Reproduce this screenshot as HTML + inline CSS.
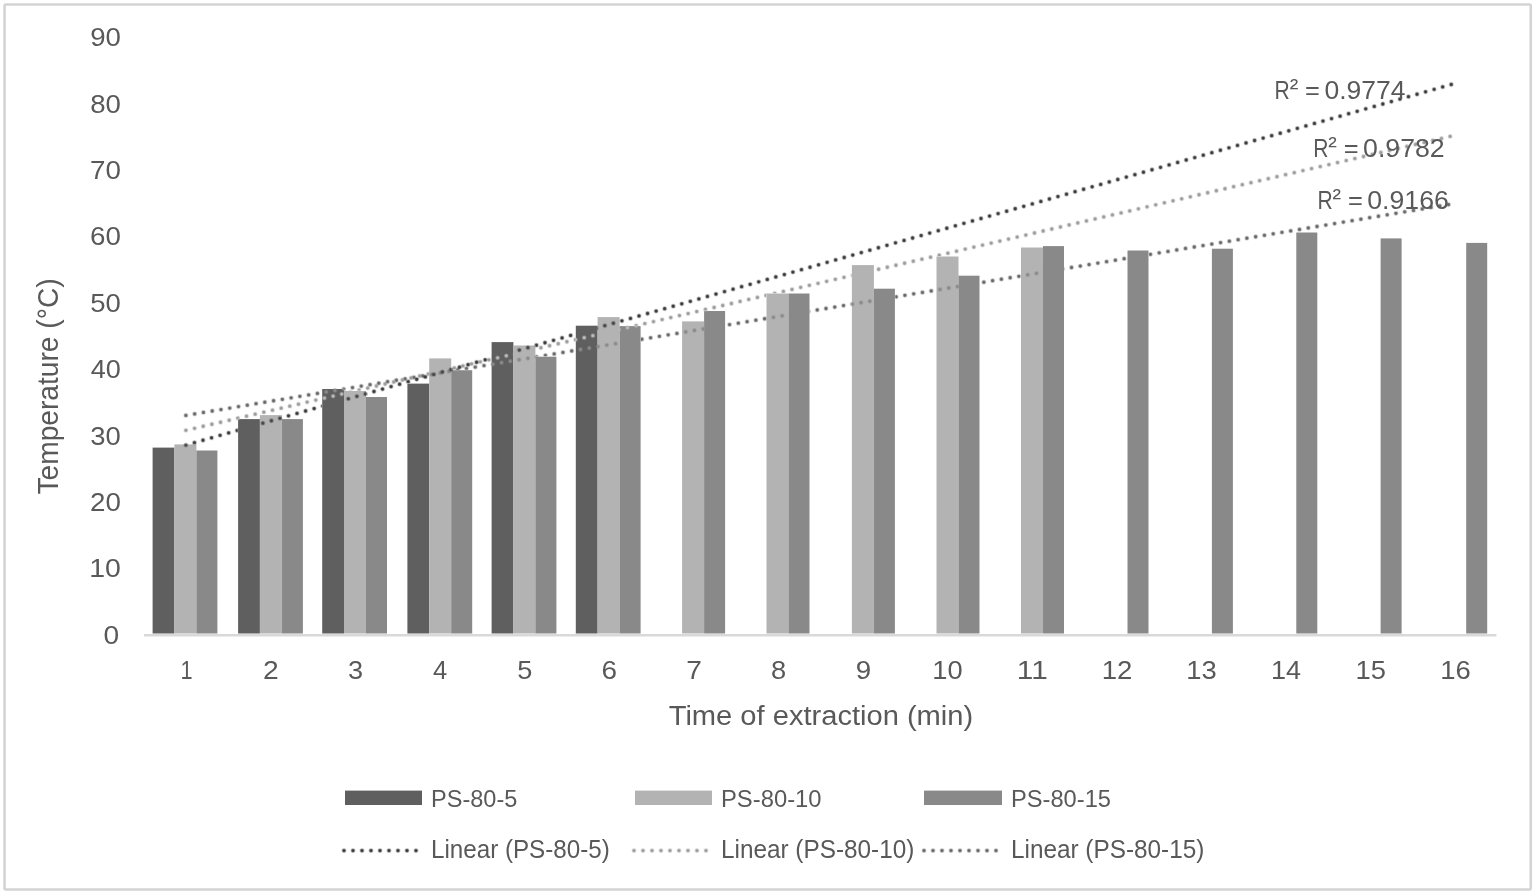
<!DOCTYPE html>
<html lang="en"><head><meta charset="utf-8"><title>Temperature vs time of extraction</title>
<style>html,body{margin:0;padding:0;background:#fff;}body{width:1535px;height:894px;overflow:hidden;}svg{display:block;}text{white-space:pre;}</style></head>
<body>
<svg width="1535" height="894" viewBox="0 0 1535 894">
<defs><mask id="mkw" maskUnits="userSpaceOnUse" x="0" y="0" width="1535" height="894"><rect x="0" y="0" width="1535" height="894" fill="#fff"/><g fill="#000"><rect x="152.30" y="447.30" width="22.40" height="186.50"/><rect x="237.80" y="418.80" width="22.40" height="215.00"/><rect x="321.90" y="388.70" width="22.40" height="245.10"/><rect x="407.10" y="383.30" width="22.40" height="250.50"/><rect x="491.30" y="341.80" width="22.40" height="292.00"/><rect x="575.50" y="325.40" width="22.40" height="308.40"/><rect x="174.10" y="444.10" width="22.60" height="189.70"/><rect x="259.60" y="414.80" width="22.60" height="219.00"/><rect x="343.70" y="390.70" width="22.60" height="243.10"/><rect x="428.90" y="358.10" width="22.60" height="275.70"/><rect x="513.10" y="345.20" width="22.60" height="288.60"/><rect x="597.30" y="316.80" width="22.60" height="317.00"/><rect x="681.80" y="321.10" width="22.60" height="312.70"/><rect x="766.20" y="293.20" width="22.60" height="340.60"/><rect x="851.60" y="264.80" width="22.60" height="369.00"/><rect x="936.20" y="256.20" width="22.60" height="377.60"/><rect x="1020.70" y="247.20" width="22.60" height="386.60"/><rect x="196.10" y="450.20" width="21.60" height="183.60"/><rect x="281.60" y="418.80" width="21.60" height="215.00"/><rect x="365.70" y="396.70" width="21.60" height="237.10"/><rect x="450.90" y="369.90" width="21.60" height="263.90"/><rect x="535.10" y="356.40" width="21.60" height="277.40"/><rect x="619.30" y="325.80" width="21.60" height="308.00"/><rect x="703.80" y="310.70" width="21.60" height="323.10"/><rect x="788.20" y="293.20" width="21.60" height="340.60"/><rect x="873.60" y="288.40" width="21.60" height="345.40"/><rect x="958.20" y="275.40" width="21.60" height="358.40"/><rect x="1042.70" y="245.80" width="21.60" height="388.00"/><rect x="1127.20" y="250.20" width="21.60" height="383.60"/><rect x="1211.60" y="248.40" width="21.60" height="385.40"/><rect x="1296.00" y="232.20" width="21.60" height="401.60"/><rect x="1380.30" y="238.10" width="21.60" height="395.70"/><rect x="1465.90" y="242.60" width="21.60" height="391.20"/></g></mask><mask id="mko0" maskUnits="userSpaceOnUse" x="0" y="0" width="1535" height="894"><g fill="#fff"><rect x="174.10" y="444.10" width="22.60" height="189.70"/><rect x="259.60" y="414.80" width="22.60" height="219.00"/><rect x="343.70" y="390.70" width="22.60" height="243.10"/><rect x="428.90" y="358.10" width="22.60" height="275.70"/><rect x="513.10" y="345.20" width="22.60" height="288.60"/><rect x="597.30" y="316.80" width="22.60" height="317.00"/><rect x="681.80" y="321.10" width="22.60" height="312.70"/><rect x="766.20" y="293.20" width="22.60" height="340.60"/><rect x="851.60" y="264.80" width="22.60" height="369.00"/><rect x="936.20" y="256.20" width="22.60" height="377.60"/><rect x="1020.70" y="247.20" width="22.60" height="386.60"/><rect x="196.10" y="450.20" width="21.60" height="183.60"/><rect x="281.60" y="418.80" width="21.60" height="215.00"/><rect x="365.70" y="396.70" width="21.60" height="237.10"/><rect x="450.90" y="369.90" width="21.60" height="263.90"/><rect x="535.10" y="356.40" width="21.60" height="277.40"/><rect x="619.30" y="325.80" width="21.60" height="308.00"/><rect x="703.80" y="310.70" width="21.60" height="323.10"/><rect x="788.20" y="293.20" width="21.60" height="340.60"/><rect x="873.60" y="288.40" width="21.60" height="345.40"/><rect x="958.20" y="275.40" width="21.60" height="358.40"/><rect x="1042.70" y="245.80" width="21.60" height="388.00"/><rect x="1127.20" y="250.20" width="21.60" height="383.60"/><rect x="1211.60" y="248.40" width="21.60" height="385.40"/><rect x="1296.00" y="232.20" width="21.60" height="401.60"/><rect x="1380.30" y="238.10" width="21.60" height="395.70"/><rect x="1465.90" y="242.60" width="21.60" height="391.20"/></g></mask><mask id="mko1" maskUnits="userSpaceOnUse" x="0" y="0" width="1535" height="894"><g fill="#fff"><rect x="196.10" y="450.20" width="21.60" height="183.60"/><rect x="281.60" y="418.80" width="21.60" height="215.00"/><rect x="365.70" y="396.70" width="21.60" height="237.10"/><rect x="450.90" y="369.90" width="21.60" height="263.90"/><rect x="535.10" y="356.40" width="21.60" height="277.40"/><rect x="619.30" y="325.80" width="21.60" height="308.00"/><rect x="703.80" y="310.70" width="21.60" height="323.10"/><rect x="788.20" y="293.20" width="21.60" height="340.60"/><rect x="873.60" y="288.40" width="21.60" height="345.40"/><rect x="958.20" y="275.40" width="21.60" height="358.40"/><rect x="1042.70" y="245.80" width="21.60" height="388.00"/><rect x="1127.20" y="250.20" width="21.60" height="383.60"/><rect x="1211.60" y="248.40" width="21.60" height="385.40"/><rect x="1296.00" y="232.20" width="21.60" height="401.60"/><rect x="1380.30" y="238.10" width="21.60" height="395.70"/><rect x="1465.90" y="242.60" width="21.60" height="391.20"/><rect x="152.30" y="447.30" width="22.40" height="186.50"/><rect x="237.80" y="418.80" width="22.40" height="215.00"/><rect x="321.90" y="388.70" width="22.40" height="245.10"/><rect x="407.10" y="383.30" width="22.40" height="250.50"/><rect x="491.30" y="341.80" width="22.40" height="292.00"/><rect x="575.50" y="325.40" width="22.40" height="308.40"/></g></mask><mask id="mko2" maskUnits="userSpaceOnUse" x="0" y="0" width="1535" height="894"><g fill="#fff"><rect x="152.30" y="447.30" width="22.40" height="186.50"/><rect x="237.80" y="418.80" width="22.40" height="215.00"/><rect x="321.90" y="388.70" width="22.40" height="245.10"/><rect x="407.10" y="383.30" width="22.40" height="250.50"/><rect x="491.30" y="341.80" width="22.40" height="292.00"/><rect x="575.50" y="325.40" width="22.40" height="308.40"/><rect x="174.10" y="444.10" width="22.60" height="189.70"/><rect x="259.60" y="414.80" width="22.60" height="219.00"/><rect x="343.70" y="390.70" width="22.60" height="243.10"/><rect x="428.90" y="358.10" width="22.60" height="275.70"/><rect x="513.10" y="345.20" width="22.60" height="288.60"/><rect x="597.30" y="316.80" width="22.60" height="317.00"/><rect x="681.80" y="321.10" width="22.60" height="312.70"/><rect x="766.20" y="293.20" width="22.60" height="340.60"/><rect x="851.60" y="264.80" width="22.60" height="369.00"/><rect x="936.20" y="256.20" width="22.60" height="377.60"/><rect x="1020.70" y="247.20" width="22.60" height="386.60"/></g></mask></defs>
<rect x="0" y="0" width="1535" height="894" fill="#ffffff"/>
<rect x="4.55" y="4.5" width="1526.2" height="885" rx="1.2" fill="none" stroke="#d4d4d4" stroke-width="2.6"/>
<g><rect x="152.60" y="447.60" width="21.80" height="185.90" fill="#5f5f5f"/><rect x="174.40" y="444.40" width="22.00" height="189.10" fill="#b3b3b3"/><rect x="196.40" y="450.50" width="21.00" height="183.00" fill="#898989"/><rect x="238.10" y="419.10" width="21.80" height="214.40" fill="#5f5f5f"/><rect x="259.90" y="415.10" width="22.00" height="218.40" fill="#b3b3b3"/><rect x="281.90" y="419.10" width="21.00" height="214.40" fill="#898989"/><rect x="322.20" y="389.00" width="21.80" height="244.50" fill="#5f5f5f"/><rect x="344.00" y="391.00" width="22.00" height="242.50" fill="#b3b3b3"/><rect x="366.00" y="397.00" width="21.00" height="236.50" fill="#898989"/><rect x="407.40" y="383.60" width="21.80" height="249.90" fill="#5f5f5f"/><rect x="429.20" y="358.40" width="22.00" height="275.10" fill="#b3b3b3"/><rect x="451.20" y="370.20" width="21.00" height="263.30" fill="#898989"/><rect x="491.60" y="342.10" width="21.80" height="291.40" fill="#5f5f5f"/><rect x="513.40" y="345.50" width="22.00" height="288.00" fill="#b3b3b3"/><rect x="535.40" y="356.70" width="21.00" height="276.80" fill="#898989"/><rect x="575.80" y="325.70" width="21.80" height="307.80" fill="#5f5f5f"/><rect x="597.60" y="317.10" width="22.00" height="316.40" fill="#b3b3b3"/><rect x="619.60" y="326.10" width="21.00" height="307.40" fill="#898989"/><rect x="682.10" y="321.40" width="22.00" height="312.10" fill="#b3b3b3"/><rect x="704.10" y="311.00" width="21.00" height="322.50" fill="#898989"/><rect x="766.50" y="293.50" width="22.00" height="340.00" fill="#b3b3b3"/><rect x="788.50" y="293.50" width="21.00" height="340.00" fill="#898989"/><rect x="851.90" y="265.10" width="22.00" height="368.40" fill="#b3b3b3"/><rect x="873.90" y="288.70" width="21.00" height="344.80" fill="#898989"/><rect x="936.50" y="256.50" width="22.00" height="377.00" fill="#b3b3b3"/><rect x="958.50" y="275.70" width="21.00" height="357.80" fill="#898989"/><rect x="1021.00" y="247.50" width="22.00" height="386.00" fill="#b3b3b3"/><rect x="1043.00" y="246.10" width="21.00" height="387.40" fill="#898989"/><rect x="1127.50" y="250.50" width="21.00" height="383.00" fill="#898989"/><rect x="1211.90" y="248.70" width="21.00" height="384.80" fill="#898989"/><rect x="1296.30" y="232.50" width="21.00" height="401.00" fill="#898989"/><rect x="1380.60" y="238.40" width="21.00" height="395.10" fill="#898989"/><rect x="1466.20" y="242.90" width="21.00" height="390.60" fill="#898989"/></g>
<line x1="144" y1="635.2" x2="1496.4" y2="635.2" stroke="#d9d9d9" stroke-width="2.5"/>
<rect x="345" y="790.6" width="77" height="14.4" fill="#5f5f5f"/>
<rect x="635" y="790.6" width="77" height="14.4" fill="#b3b3b3"/>
<rect x="924" y="790.6" width="78" height="14.4" fill="#898989"/>
<g fill="none" stroke-linecap="round"><g mask="url(#mkw)"><line x1="185.9" y1="415.4" x2="1455.0" y2="203.46" stroke-dasharray="0 8.89" stroke="#686868" stroke-width="5.3" stroke-opacity="0.15"/><line x1="185.9" y1="415.4" x2="1455.0" y2="203.46" stroke-dasharray="0 8.89" stroke="#686868" stroke-width="4.3" stroke-opacity="0.36"/><line x1="185.9" y1="415.4" x2="1455.0" y2="203.46" stroke-dasharray="0 8.89" stroke="#686868" stroke-width="3.3" stroke-opacity="0.6"/><line x1="185.9" y1="415.4" x2="1455.0" y2="203.46" stroke-dasharray="0 8.89" stroke="#686868" stroke-width="2.4" stroke-opacity="1.0"/></g>
<g mask="url(#mko2)"><line x1="185.9" y1="415.4" x2="1455.0" y2="203.46" stroke-dasharray="0 8.89" stroke="#8a8a8a" stroke-width="5.3" stroke-opacity="0.15"/><line x1="185.9" y1="415.4" x2="1455.0" y2="203.46" stroke-dasharray="0 8.89" stroke="#8a8a8a" stroke-width="4.3" stroke-opacity="0.36"/><line x1="185.9" y1="415.4" x2="1455.0" y2="203.46" stroke-dasharray="0 8.89" stroke="#8a8a8a" stroke-width="3.3" stroke-opacity="0.6"/><line x1="185.9" y1="415.4" x2="1455.0" y2="203.46" stroke-dasharray="0 8.89" stroke="#8a8a8a" stroke-width="2.4" stroke-opacity="1.0"/></g>
<g mask="url(#mkw)"><line x1="185.9" y1="430.3" x2="1455.0" y2="135.26" stroke-dasharray="0 8.89" stroke="#9c9c9c" stroke-width="5.3" stroke-opacity="0.15"/><line x1="185.9" y1="430.3" x2="1455.0" y2="135.26" stroke-dasharray="0 8.89" stroke="#9c9c9c" stroke-width="4.3" stroke-opacity="0.36"/><line x1="185.9" y1="430.3" x2="1455.0" y2="135.26" stroke-dasharray="0 8.89" stroke="#9c9c9c" stroke-width="3.3" stroke-opacity="0.6"/><line x1="185.9" y1="430.3" x2="1455.0" y2="135.26" stroke-dasharray="0 8.89" stroke="#9c9c9c" stroke-width="2.4" stroke-opacity="1.0"/></g>
<g mask="url(#mko1)"><line x1="185.9" y1="430.3" x2="1455.0" y2="135.26" stroke-dasharray="0 8.89" stroke="#bcbcbc" stroke-width="5.3" stroke-opacity="0.15"/><line x1="185.9" y1="430.3" x2="1455.0" y2="135.26" stroke-dasharray="0 8.89" stroke="#bcbcbc" stroke-width="4.3" stroke-opacity="0.36"/><line x1="185.9" y1="430.3" x2="1455.0" y2="135.26" stroke-dasharray="0 8.89" stroke="#bcbcbc" stroke-width="3.3" stroke-opacity="0.6"/><line x1="185.9" y1="430.3" x2="1455.0" y2="135.26" stroke-dasharray="0 8.89" stroke="#bcbcbc" stroke-width="2.4" stroke-opacity="1.0"/></g>
<g mask="url(#mkw)"><line x1="185.9" y1="445.1" x2="1455.0" y2="83.41" stroke-dasharray="0 8.89" stroke="#3a3a3a" stroke-width="5.3" stroke-opacity="0.15"/><line x1="185.9" y1="445.1" x2="1455.0" y2="83.41" stroke-dasharray="0 8.89" stroke="#3a3a3a" stroke-width="4.3" stroke-opacity="0.36"/><line x1="185.9" y1="445.1" x2="1455.0" y2="83.41" stroke-dasharray="0 8.89" stroke="#3a3a3a" stroke-width="3.3" stroke-opacity="0.6"/><line x1="185.9" y1="445.1" x2="1455.0" y2="83.41" stroke-dasharray="0 8.89" stroke="#3a3a3a" stroke-width="2.4" stroke-opacity="1.0"/></g>
<g mask="url(#mko0)"><line x1="185.9" y1="445.1" x2="1455.0" y2="83.41" stroke-dasharray="0 8.89" stroke="#484848" stroke-width="5.3" stroke-opacity="0.15"/><line x1="185.9" y1="445.1" x2="1455.0" y2="83.41" stroke-dasharray="0 8.89" stroke="#484848" stroke-width="4.3" stroke-opacity="0.36"/><line x1="185.9" y1="445.1" x2="1455.0" y2="83.41" stroke-dasharray="0 8.89" stroke="#484848" stroke-width="3.3" stroke-opacity="0.6"/><line x1="185.9" y1="445.1" x2="1455.0" y2="83.41" stroke-dasharray="0 8.89" stroke="#484848" stroke-width="2.4" stroke-opacity="1.0"/></g>
<line x1="344" y1="850.6" x2="416.5" y2="850.6" stroke-dasharray="0 9" stroke="#3a3a3a" stroke-width="5.3" stroke-opacity="0.15"/><line x1="344" y1="850.6" x2="416.5" y2="850.6" stroke-dasharray="0 9" stroke="#3a3a3a" stroke-width="4.3" stroke-opacity="0.36"/><line x1="344" y1="850.6" x2="416.5" y2="850.6" stroke-dasharray="0 9" stroke="#3a3a3a" stroke-width="3.3" stroke-opacity="0.6"/><line x1="344" y1="850.6" x2="416.5" y2="850.6" stroke-dasharray="0 9" stroke="#3a3a3a" stroke-width="2.4" stroke-opacity="1.0"/>
<line x1="634" y1="850.6" x2="706.5" y2="850.6" stroke-dasharray="0 9" stroke="#9c9c9c" stroke-width="5.3" stroke-opacity="0.15"/><line x1="634" y1="850.6" x2="706.5" y2="850.6" stroke-dasharray="0 9" stroke="#9c9c9c" stroke-width="4.3" stroke-opacity="0.36"/><line x1="634" y1="850.6" x2="706.5" y2="850.6" stroke-dasharray="0 9" stroke="#9c9c9c" stroke-width="3.3" stroke-opacity="0.6"/><line x1="634" y1="850.6" x2="706.5" y2="850.6" stroke-dasharray="0 9" stroke="#9c9c9c" stroke-width="2.4" stroke-opacity="1.0"/>
<line x1="924" y1="850.6" x2="996.5" y2="850.6" stroke-dasharray="0 9" stroke="#686868" stroke-width="5.3" stroke-opacity="0.15"/><line x1="924" y1="850.6" x2="996.5" y2="850.6" stroke-dasharray="0 9" stroke="#686868" stroke-width="4.3" stroke-opacity="0.36"/><line x1="924" y1="850.6" x2="996.5" y2="850.6" stroke-dasharray="0 9" stroke="#686868" stroke-width="3.3" stroke-opacity="0.6"/><line x1="924" y1="850.6" x2="996.5" y2="850.6" stroke-dasharray="0 9" stroke="#686868" stroke-width="2.4" stroke-opacity="1.0"/></g>
<g fill="#595959" font-family="Liberation Sans, sans-serif"><text transform="translate(90.16,46.10) scale(1.0651,1)" font-size="25.95">90</text>
<text transform="translate(90.23,112.52) scale(1.0625,1)" font-size="25.95">80</text>
<text transform="translate(90.01,178.93) scale(1.0703,1)" font-size="25.95">70</text>
<text transform="translate(90.01,245.35) scale(1.0703,1)" font-size="25.95">60</text>
<text transform="translate(90.30,311.77) scale(1.0600,1)" font-size="25.95">50</text>
<text transform="translate(90.79,378.18) scale(1.0423,1)" font-size="25.95">40</text>
<text transform="translate(90.37,444.60) scale(1.0574,1)" font-size="25.95">30</text>
<text transform="translate(90.01,511.02) scale(1.0703,1)" font-size="25.95">20</text>
<text transform="translate(89.26,577.43) scale(1.0972,1)" font-size="25.95">10</text>
<text transform="translate(103.55,643.85) scale(1.0838,1)" font-size="25.95">0</text>
<text transform="translate(180.57,679.40) scale(0.8469,1)" font-size="25.66">1</text>
<text transform="translate(262.94,679.40) scale(1.0987,1)" font-size="25.66">2</text>
<text transform="translate(347.98,679.40) scale(1.0582,1)" font-size="25.66">3</text>
<text transform="translate(433.08,679.40) scale(0.9954,1)" font-size="25.66">4</text>
<text transform="translate(517.21,679.40) scale(1.0582,1)" font-size="25.66">5</text>
<text transform="translate(601.56,679.40) scale(1.0868,1)" font-size="25.66">6</text>
<text transform="translate(686.19,679.40) scale(1.0987,1)" font-size="25.66">7</text>
<text transform="translate(771.09,679.40) scale(1.0638,1)" font-size="25.66">8</text>
<text transform="translate(855.65,679.40) scale(1.0810,1)" font-size="25.66">9</text>
<text transform="translate(932.35,679.40) scale(1.0625,1)" font-size="25.66">10</text>
<text transform="translate(1016.82,679.40) scale(1.1583,1)" font-size="25.66">11</text>
<text transform="translate(1101.63,679.40) scale(1.0733,1)" font-size="25.66">12</text>
<text transform="translate(1186.29,679.40) scale(1.0679,1)" font-size="25.66">13</text>
<text transform="translate(1270.98,679.40) scale(1.0520,1)" font-size="25.66">14</text>
<text transform="translate(1355.60,679.40) scale(1.0652,1)" font-size="25.66">15</text>
<text transform="translate(1440.24,679.40) scale(1.0679,1)" font-size="25.66">16</text>
<text transform="translate(668.72,725.20) scale(1.0478,1)" font-size="27.78">Time of extraction (min)</text>
<text transform="translate(58.00,494.46) rotate(-90) scale(0.9679,1)" font-size="29.09">Temperature (°C)</text>
<text transform="translate(431.02,807.00) scale(0.9519,1)" font-size="24.73">PS-80-5</text>
<text transform="translate(430.96,858.40) scale(0.9453,1)" font-size="25.60">Linear (PS-80-5)</text>
<text transform="translate(721.00,807.00) scale(0.9625,1)" font-size="24.73">PS-80-10</text>
<text transform="translate(720.95,858.40) scale(0.9511,1)" font-size="25.60">Linear (PS-80-10)</text>
<text transform="translate(1011.01,807.00) scale(0.9572,1)" font-size="24.73">PS-80-15</text>
<text transform="translate(1010.95,858.40) scale(0.9511,1)" font-size="25.60">Linear (PS-80-15)</text>
<text y="99.00" font-size="25.16"><tspan x="1274.51" textLength="15.23" lengthAdjust="spacingAndGlyphs">R</tspan><tspan x="1289.68" dy="-3.07" font-size="25.00" textLength="8.58" lengthAdjust="spacingAndGlyphs">²</tspan><tspan x="1299.09" dy="3.07" textLength="6" lengthAdjust="spacingAndGlyphs"> </tspan><tspan x="1305.09" textLength="14.85" lengthAdjust="spacingAndGlyphs">=</tspan><tspan x="1318.41" textLength="6" lengthAdjust="spacingAndGlyphs"> </tspan><tspan x="1324.41" textLength="81.05" lengthAdjust="spacingAndGlyphs">0.9774</tspan></text>
<text y="156.80" font-size="25.16"><tspan x="1313.21" textLength="15.23" lengthAdjust="spacingAndGlyphs">R</tspan><tspan x="1328.38" dy="-3.07" font-size="25.00" textLength="8.58" lengthAdjust="spacingAndGlyphs">²</tspan><tspan x="1337.79" dy="3.07" textLength="6" lengthAdjust="spacingAndGlyphs"> </tspan><tspan x="1343.79" textLength="14.85" lengthAdjust="spacingAndGlyphs">=</tspan><tspan x="1357.10" textLength="6" lengthAdjust="spacingAndGlyphs"> </tspan><tspan x="1363.10" textLength="81.60" lengthAdjust="spacingAndGlyphs">0.9782</tspan></text>
<text y="208.60" font-size="25.16"><tspan x="1317.41" textLength="15.23" lengthAdjust="spacingAndGlyphs">R</tspan><tspan x="1332.58" dy="-3.07" font-size="25.00" textLength="8.58" lengthAdjust="spacingAndGlyphs">²</tspan><tspan x="1341.99" dy="3.07" textLength="6" lengthAdjust="spacingAndGlyphs"> </tspan><tspan x="1347.99" textLength="14.85" lengthAdjust="spacingAndGlyphs">=</tspan><tspan x="1361.30" textLength="6" lengthAdjust="spacingAndGlyphs"> </tspan><tspan x="1367.30" textLength="81.46" lengthAdjust="spacingAndGlyphs">0.9166</tspan></text></g>
</svg>
</body></html>
